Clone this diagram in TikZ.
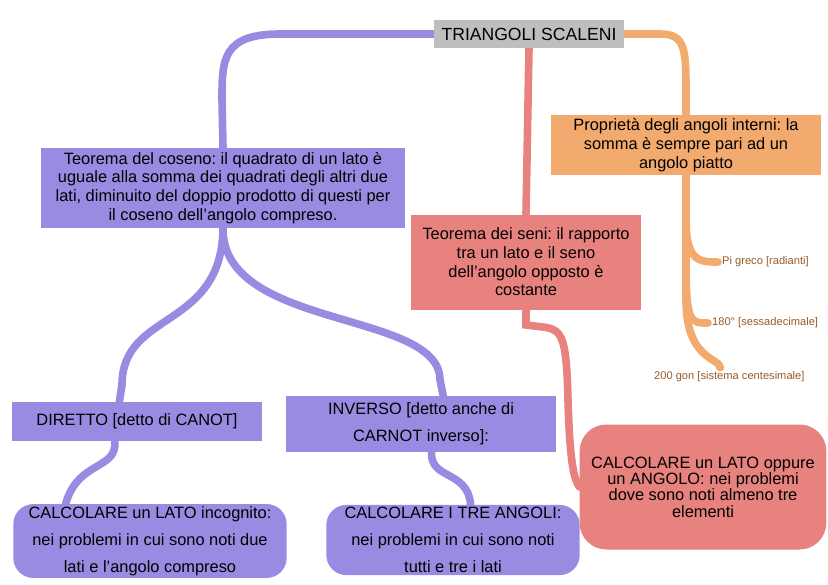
\documentclass[tikz,border=0pt]{standalone}
\usepackage{fontspec}
\setmainfont{Liberation Sans}
\usetikzlibrary{backgrounds}
\definecolor{titlegray}{RGB}{190, 190, 190}
\definecolor{mappurple}{RGB}{152, 140, 226}
\definecolor{mapred}{RGB}{232, 130, 126}
\definecolor{maporange}{RGB}{243, 170, 110}
\definecolor{labelbrown}{RGB}{150, 90, 40}
\newcommand{\nohyph}{\frenchspacing\hyphenpenalty=10000\relax}

\tikzset{
  box/.style={inner sep=2pt, align=center, font=\fontsize{14}{16}\selectfont\nohyph},
  purplebox/.style={box, fill=mappurple},
  redbox/.style={box, fill=mapred},
  link/.style={line width=6.5pt, line cap=round},
  leaf/.style={anchor=west, font=\fontsize{9.5}{11}\selectfont, text=labelbrown}
}

\begin{document}
\begin{tikzpicture}[x=0.03cm, y=-0.03cm]
  \useasboundingbox (0,0) rectangle (828,585);

  \node[box, fill=titlegray, minimum width=5.7cm, minimum height=0.84cm, font=\fontsize{15}{17}\selectfont] (title) at (529,34) {TRIANGOLI SCALENI};
  \node[purplebox, minimum width=10.9cm, minimum height=2.4cm] (coseno) at (223,188) {Teorema del coseno: il quadrato di un lato è\\ uguale alla somma dei quadrati degli altri due\\ lati, diminuito del doppio prodotto di questi per\\ il coseno dell'angolo compreso.};
  \node[redbox, minimum width=6.9cm, minimum height=2.85cm] (seni) at (526,262) {Teorema dei seni: il rapporto\\ tra un lato e il seno\\ dell'angolo opposto è\\ costante};
  \node[box, fill=maporange, minimum width=8.1cm, minimum height=1.8cm] (angoli) at (686,145) {Proprietà degli angoli interni: la\\ somma è sempre pari ad un\\ angolo piatto};
  \node[purplebox, minimum width=7.5cm, minimum height=1.17cm] (diretto) at (137,421) {DIRETTO [detto di CANOT]};
  \node[purplebox, minimum width=8.1cm, minimum height=1.68cm, font=\fontsize{14}{23}\selectfont\nohyph] (inverso) at (421,424) {INVERSO [detto anche di\\ CARNOT inverso]:};
  \node[purplebox, rounded corners=0.6cm, minimum width=8.2cm, minimum height=2.2cm, font=\fontsize{14}{23}\selectfont\nohyph] (calclato) at (150,541) {CALCOLARE un LATO incognito:\\ nei problemi in cui sono noti due\\ lati e l'angolo compreso};
  \node[purplebox, rounded corners=0.6cm, minimum width=7.6cm, minimum height=2.1cm, font=\fontsize{14}{23}\selectfont\nohyph] (calcangoli) at (453,540) {CALCOLARE I TRE ANGOLI:\\ nei problemi in cui sono noti\\ tutti e tre i lati};
  \node[redbox, rounded corners=0.8cm, minimum width=7.4cm, minimum height=3.75cm, font=\fontsize{14}{14}\selectfont\nohyph] (calcseni) at (703,487) {CALCOLARE un LATO oppure\\ un ANGOLO: nei problemi\\ dove sono noti almeno tre\\ elementi};
  \node[leaf] (radianti) at (718,262) {Pi greco [radianti]};
  \node[leaf] (sessa) at (708,323) {180° [sessadecimale]};
  \node[leaf] (gon) at (650,377) {200 gon [sistema centesimale]};

  \begin{pgfonlayer}{background}
    \draw[link, mappurple] (title.west) -- (280,34) .. controls (222,34) and (222,60) .. (222,100) -- (coseno.north);
    \draw[link, mapred] (title.south) -- (seni.north);
    \draw[link, maporange] (title.east) -- (660,34) .. controls (686,34) and (686,50) .. (686,95) -- (angoli.north);
    \draw[link, mappurple] (coseno.south) .. controls (222,330) and (122,310) .. (122,385) -- ([xshift=-15]diretto.north);
    \draw[link, mappurple] (coseno.south) .. controls (222,330) and (440,310) .. (440,380) -- ([xshift=19]inverso.north);
    \draw[link, mappurple] ([xshift=-19]diretto.south) .. controls (118,470) and (78,460) .. ([xshift=-72]calclato.north);
    \draw[link, mappurple] ([xshift=9]inverso.south) .. controls (430,480) and (468,470) .. ([xshift=15]calcangoli.north);
    \draw[link, mapred] (seni.south) -- (526,325) .. controls (560,330) and (566,320) .. (568,400) .. controls (570,470) and (575,480) .. (calcseni.west);
    \draw[link, maporange] (angoli.south) -- (686,220) .. controls (686,262) and (700,262) .. (radianti.west);
    \draw[link, maporange] (angoli.south) -- (686,260) .. controls (686,323) and (690,323) .. (sessa.west);
    \draw[link, maporange] (angoli.south) -- (686,300) .. controls (686,360) and (720,358) .. ([xshift=60]gon.north west);
  \end{pgfonlayer}
\end{tikzpicture}
\end{document}
